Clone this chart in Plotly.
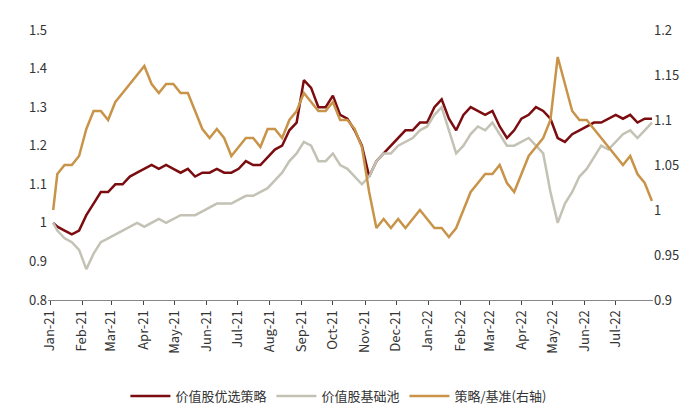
import pandas as pd
import plotly.graph_objects as go

dates = [pd.Timestamp("2021-01-04")] + list(pd.date_range("2021-01-08", "2022-08-05", freq="W-FRI"))
month_ticks = list(pd.date_range("2021-01-01", "2022-07-01", freq="MS"))

strategy = [1.00,
    0.99, 0.98, 0.97, 0.98,
    1.02, 1.05, 1.08, 1.08,
    1.10, 1.10, 1.12, 1.13,
    1.14, 1.15, 1.14, 1.15, 1.14,
    1.13, 1.14, 1.12, 1.13,
    1.13, 1.14, 1.13, 1.13,
    1.14, 1.16, 1.15, 1.15, 1.17,
    1.19, 1.20, 1.24, 1.26,
    1.37, 1.35, 1.30, 1.30,
    1.33, 1.28, 1.27, 1.24, 1.20,
    1.12, 1.16, 1.18, 1.20,
    1.22, 1.24, 1.24, 1.26, 1.26,
    1.30, 1.32, 1.27, 1.24,
    1.28, 1.30, 1.29, 1.28,
    1.29, 1.25, 1.22, 1.24,
    1.27, 1.28, 1.30, 1.29, 1.27,
    1.22, 1.21, 1.23, 1.24,
    1.25, 1.26, 1.26, 1.27,
    1.28, 1.27, 1.28, 1.26, 1.27,
    1.27]

base = [1.00,
    0.98, 0.96, 0.95, 0.93,
    0.88, 0.92, 0.95, 0.96,
    0.97, 0.98, 0.99, 1.00,
    0.99, 1.00, 1.01, 1.00, 1.01,
    1.02, 1.02, 1.02, 1.03,
    1.04, 1.05, 1.05, 1.05,
    1.06, 1.07, 1.07, 1.08, 1.09,
    1.11, 1.13, 1.16, 1.18,
    1.21, 1.20, 1.16, 1.16,
    1.18, 1.15, 1.14, 1.12, 1.10,
    1.12, 1.16, 1.18, 1.18,
    1.20, 1.21, 1.22, 1.24, 1.25,
    1.28, 1.30, 1.24, 1.18,
    1.20, 1.23, 1.25, 1.24,
    1.26, 1.23, 1.20, 1.20,
    1.21, 1.22, 1.20, 1.18, 1.08,
    1.00, 1.05, 1.08, 1.12,
    1.14, 1.17, 1.20, 1.19,
    1.21, 1.23, 1.24, 1.22, 1.24,
    1.26]

ratio = [1.00,
    1.04, 1.05, 1.05, 1.06,
    1.09, 1.11, 1.11, 1.10,
    1.12, 1.13, 1.14, 1.15,
    1.16, 1.14, 1.13, 1.14, 1.14,
    1.13, 1.13, 1.11, 1.09,
    1.08, 1.09, 1.08, 1.06,
    1.07, 1.08, 1.08, 1.07, 1.09,
    1.09, 1.08, 1.10, 1.11,
    1.13, 1.12, 1.11, 1.11,
    1.12, 1.10, 1.10, 1.09, 1.07,
    1.02, 0.98, 0.99, 0.98,
    0.99, 0.98, 0.99, 1.00, 0.99,
    0.98, 0.98, 0.97, 0.98,
    1.00, 1.02, 1.03, 1.04,
    1.04, 1.05, 1.03, 1.02,
    1.04, 1.06, 1.07, 1.08, 1.10,
    1.17, 1.14, 1.11, 1.10,
    1.10, 1.09, 1.08, 1.07,
    1.06, 1.05, 1.06, 1.04, 1.03,
    1.01]

fig = go.Figure()
fig.add_trace(go.Scatter(x=dates, y=strategy, name="价值股优选策略", mode="lines",
                         line=dict(color="#7B0C10", width=2.5)))
fig.add_trace(go.Scatter(x=dates, y=base, name="价值股基础池", mode="lines",
                         line=dict(color="#C3C2B4", width=2.5)))
fig.add_trace(go.Scatter(x=dates, y=ratio, name="策略/基准(右轴)", mode="lines", yaxis="y2",
                         line=dict(color="#C8944A", width=2.5)))

fig.update_layout(
    width=700, height=415, plot_bgcolor="white", paper_bgcolor="white",
    font=dict(family="Noto Sans CJK SC", size=13, color="#333"),
    margin=dict(l=40, r=55, t=18, b=117),
    xaxis=dict(tickvals=month_ticks, tickformat="%b-%y", tickangle=-90,
               range=["2020-12-30", "2022-08-06"], showgrid=False,
               showline=True, linecolor="#888", ticks="outside", ticklen=4),
    yaxis=dict(range=[0.8, 1.5], dtick=0.1, showgrid=False, zeroline=False),
    yaxis2=dict(range=[0.9, 1.2], dtick=0.05, overlaying="y", side="right",
                showgrid=False, zeroline=False),
    legend=dict(orientation="h", x=0.48, xanchor="center", y=-0.3, yanchor="top",
                font=dict(size=13), itemwidth=40),
)

fig.write_html("out.html")
